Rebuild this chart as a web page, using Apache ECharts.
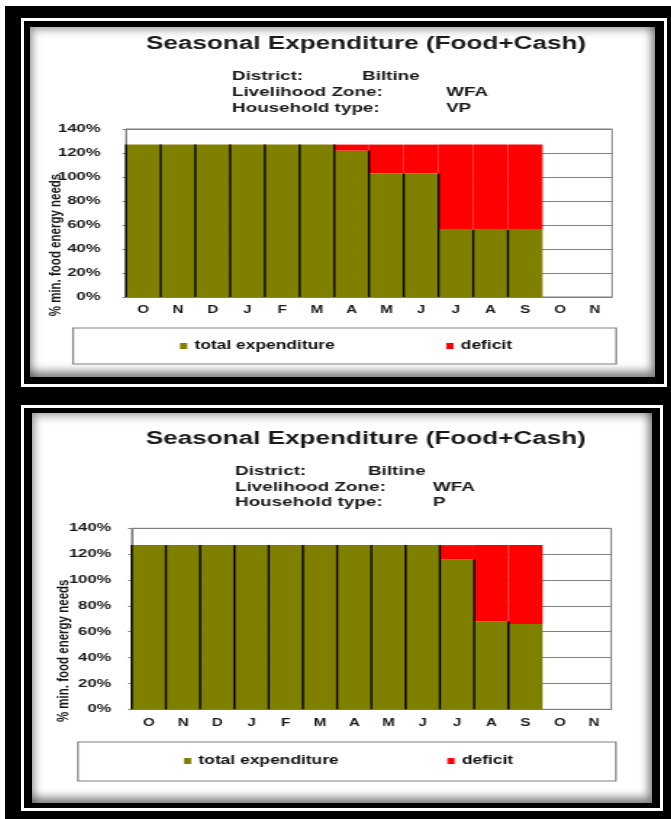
<!DOCTYPE html>
<html>
<head>
<meta charset="utf-8">
<script src="https://cdn.jsdelivr.net/npm/echarts@6/dist/echarts.min.js"></script>
<style>
  body { margin: 0; width: 671px; height: 819px; overflow: hidden; position: relative; background: #fff; }
  #bg { position: absolute; left: 5px; top: 6px; right: 0; bottom: 0; background: #000; }
  .frame { position: absolute; border: 3px solid #fff; box-sizing: border-box; }
  #frame1 { left: 21px; top: 18px; width: 646px; height: 369px; }
  #frame2 { left: 21px; top: 405px; width: 642px; height: 406px; }
  .panel {
    position: absolute; background: #fff; overflow: hidden;
    box-shadow: inset 3px 3px 8px rgba(0,0,0,0.35), inset -4px -6px 8px rgba(0,0,0,0.45);
  }
  #panel1 { left: 30px; top: 27px; width: 625px; height: 350px; }
  #panel2 { left: 32px; top: 413px; width: 620px; height: 390px; }
  /* the source picture is stretched sideways, so the charts are too */
  .chart { height: 100%; transform-origin: 0 0; transform: scaleX(1.45); }
  #chart1 { width: 431px; }
  #chart2 { width: 427.6px; }
</style>
</head>
<body>
<div id="bg"></div>
<div class="frame" id="frame1"></div>
<div class="frame" id="frame2"></div>
<div class="panel" id="panel1"><div class="chart" id="chart1"></div></div>
<div class="panel" id="panel2"><div class="chart" id="chart2"></div></div>
<script>
// data
const months = ['O', 'N', 'D', 'J', 'F', 'M', 'A', 'M', 'J', 'J', 'A', 'S', 'O', 'N']
const vpExpenditure = [127, 127, 127, 127, 127, 127, 122, 103, 103, 56, 56, 56, null, null]
const vpDeficit = [0, 0, 0, 0, 0, 0, 5, 24, 24, 71, 71, 71, null, null]
const pExpenditure = [127, 127, 127, 127, 127, 127, 127, 127, 127, 116, 68, 66, null, null]
const pDeficit = [0, 0, 0, 0, 0, 0, 0, 0, 0, 11, 59, 61, null, null]
const infoLabels = ['District:', 'Livelihood Zone:', 'Household type:']
const vpInfo = ['Biltine', 'WFA', 'VP']
const pInfo = ['Biltine', 'WFA', 'P']
const seriesNames = ['total expenditure', 'deficit']
const chartTitle = 'Seasonal Expenditure (Food+Cash)'
const yAxisName = '% min. food energy needs'

const GREEN = '#808000'
const RED = '#ff0000'
const FONT = '"Liberation Sans", Arial, sans-serif'

// layout, in unstretched chart pixels
const layout1 = {
  grid: { left: 66.2, top: 102, width: 335.2, height: 168 },
  titleX: 231.7, titleTop: 8,
  infoTops: [42.5, 59, 75], infoX: [139.3, 229, 286.9],
  labelMargin: 17.5, nameGap: 42,
  legendLeft: 103.4, legendTop: 313, legendGap: 77,
  legendBox: { x: 29.7, y: 301, width: 374.5, height: 36 },
}
const layout2 = {
  grid: { left: 68.8, top: 115.3, width: 330.6, height: 181 },
  titleX: 230.3, titleTop: 17,
  infoTops: [52, 67.5, 83], infoX: [140, 231.7, 276.6],
  labelMargin: 14, nameGap: 41,
  legendLeft: 104.8, legendTop: 342, legendGap: 75,
  legendBox: { x: 31.7, y: 329, width: 371, height: 39 },
}

const textBase = { fontFamily: FONT, fontWeight: 'bold', color: '#1a1a1a' }

function buildOption(expenditure, deficit, info, lay) {
  // black dividers between neighbouring green bars
  const dividers = []
  for (let i = 0; i < expenditure.length; i++) {
    if (expenditure[i] == null) break
    dividers.push([i, Math.max(expenditure[i - 1] || 0, expenditure[i])])
  }
  const titles = [
    { text: chartTitle, left: lay.titleX, top: lay.titleTop, textAlign: 'center', padding: 0,
      textStyle: { ...textBase, fontSize: 18 } },
  ]
  infoLabels.forEach((label, i) => {
    titles.push({ text: label, left: lay.infoX[0], top: lay.infoTops[i], padding: 0,
      textStyle: { ...textBase, fontSize: 13 } })
    titles.push({ text: info[i], left: i === 0 ? lay.infoX[1] : lay.infoX[2], top: lay.infoTops[i], padding: 0,
      textStyle: { ...textBase, fontSize: 13 } })
  })
  return {
    animation: false,
    title: titles,
    graphic: [{
      type: 'rect', silent: true,
      shape: { ...lay.legendBox },
      style: { fill: 'rgba(255,255,255,0)', stroke: '#808080', lineWidth: 1.2 },
    }],
    legend: {
      data: seriesNames,
      left: lay.legendLeft, top: lay.legendTop, padding: 0,
      itemGap: lay.legendGap, itemWidth: 5, itemHeight: 6,
      icon: 'rect',
      textStyle: { ...textBase, fontSize: 12, color: '#111' },
    },
    grid: { ...lay.grid, show: true, borderColor: '#808080', borderWidth: 1, outerBoundsMode: 'none' },
    xAxis: {
      type: 'category',
      data: months,
      axisLine: { lineStyle: { color: '#808080', width: 1 } },
      axisTick: { interval: 0, length: 3, lineStyle: { color: '#808080' } },
      axisLabel: { ...textBase, fontSize: 10.5, margin: 8, interval: 0 },
      splitLine: { show: false },
    },
    yAxis: {
      type: 'value',
      min: 0, max: 140, interval: 20,
      name: yAxisName,
      nameLocation: 'middle',
      nameGap: lay.nameGap,
      nameMoveOverlap: false,
      nameTextStyle: { ...textBase, fontSize: 11.5, padding: [0, 64, 0, 0] },
      axisLine: { show: true, lineStyle: { color: '#808080', width: 1 } },
      axisTick: { show: true, length: 2.5, lineStyle: { color: '#808080' } },
      axisLabel: { ...textBase, fontSize: 11.5, margin: lay.labelMargin, formatter: '{value}%' },
      splitLine: { lineStyle: { color: '#808080', width: 1 } },
    },
    series: [
      {
        name: seriesNames[0], type: 'bar', stack: 'total',
        data: expenditure, barCategoryGap: '0%',
        itemStyle: { color: GREEN },
      },
      {
        name: seriesNames[1], type: 'bar', stack: 'total',
        data: deficit, barCategoryGap: '0%',
        itemStyle: { color: RED },
      },
      {
        type: 'custom', silent: true, z: 3,
        data: dividers,
        renderItem: (params, api) => {
          const base = api.coord([api.value(0), 0])
          const top = api.coord([api.value(0), api.value(1)])
          const x = base[0] - api.size([1, 0])[0] / 2
          return {
            type: 'line',
            shape: { x1: x, y1: base[1], x2: x, y2: top[1] },
            style: { stroke: '#000', lineWidth: 1.4 },
          }
        },
      },
    ],
  }
}

const chart1 = echarts.init(document.getElementById('chart1'))
chart1.setOption(buildOption(vpExpenditure, vpDeficit, vpInfo, layout1))
const chart2 = echarts.init(document.getElementById('chart2'))
chart2.setOption(buildOption(pExpenditure, pDeficit, pInfo, layout2))
</script>
</body>
</html>
